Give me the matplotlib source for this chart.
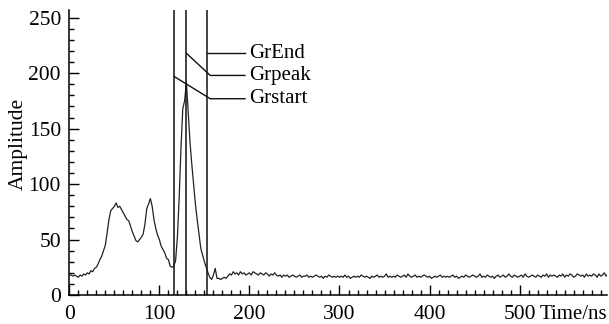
import numpy as np
import matplotlib
matplotlib.use('Agg')
import matplotlib.pyplot as plt
from matplotlib.ticker import MultipleLocator

plt.rcParams['font.family'] = ['Liberation Serif', 'DejaVu Serif']

# waveform sampled every 2 ns
amp = [
    18, 18, 17, 18, 17, 16, 18, 17, 19, 18,
    20, 19, 22, 21, 24, 25, 28, 32, 35, 40,
    45, 56, 68, 76, 78, 80, 83, 79, 80, 77,
    74, 71, 68, 67, 62, 57, 53, 49, 48, 50,
    52, 55, 64, 78, 82, 87, 80, 68, 60, 54,
    50, 44, 41, 38, 33, 32, 26, 25, 26, 31,
    52, 88, 133, 168, 175, 192, 165, 138, 118, 100,
    82, 68, 55, 42, 36, 30, 25, 20, 16, 14,
    18, 24, 15, 15, 14, 15, 16, 15, 17, 19,
    18, 21, 19, 20, 18, 21, 19, 20, 18, 19,
    20, 18, 21, 20, 19, 18, 20, 19, 18, 20,
    19, 17, 19, 18, 20, 18, 17, 18, 16, 18,
    17, 18, 16, 17, 18, 17, 16, 17, 18, 16, 17, 17, 18, 16, 17,
    16, 17, 18, 17, 16, 17, 15, 17, 16, 18, 17, 16, 17, 16, 17,
    16, 17, 16, 18, 16, 17, 15, 16, 17, 16, 17, 16, 18, 17, 16,
    17, 16, 15, 17, 16, 17, 18, 16, 17, 16, 17, 19, 16, 17, 16,
    17, 16, 18, 17, 16, 17, 18, 16, 19, 17, 16, 17, 18, 16, 17,
    16, 17, 18, 17, 16, 17, 15, 16, 17, 16, 17, 18, 16, 17, 16,
    17, 16, 17, 18, 16, 17, 15, 16, 17, 16, 18, 17, 16, 17, 18,
    17, 16, 17, 19, 16, 17, 16, 18, 17, 16, 17, 15, 17, 18, 16,
    17, 18, 16, 17, 19, 17, 16, 18, 17, 16, 17, 18, 16, 19, 17,
    16, 17, 18, 17, 16, 18, 17, 16, 18, 17, 19, 16, 18, 17, 18,
    17, 16, 18, 17, 19, 16, 18, 17, 19, 18, 16, 17, 19, 18, 17,
    18, 16, 19, 17, 18, 17, 19, 18, 16, 19, 17, 18, 20, 17, 19,
]
t = np.arange(len(amp)) * 2

marker_names = ['GrEnd', 'Grpeak', 'Grstart']
marker_times = [153, 130, 116.5]
label_y = [218, 198, 177]     # where each label sits
leader_start_y = [218, 218, 197]

fig = plt.figure(figsize=(6.09, 3.24), dpi=100)
ax = fig.add_axes([0.1138, 0.0895, 0.8829, 0.8796])

ax.plot(t, amp, color='#222222', lw=0.9)
for xm in marker_times:
    ax.axvline(xm, color='#111111', lw=1.1)

elbow_x = 156.5
line_end_x = 195
text_x = 200
for name, xm, ly, sy in zip(marker_names, marker_times, label_y, leader_start_y):
    if name == 'GrEnd':
        ax.plot([xm, line_end_x], [ly, ly], color='#111111', lw=1.0)
    else:
        ax.plot([xm, elbow_x, line_end_x], [sy, ly, ly], color='#111111', lw=1.0)
    ax.text(text_x, ly, name, fontsize=15, va='center', ha='left')

ax.set_xlim(0, 597)
ax.set_ylim(0, 257)
ax.spines['top'].set_visible(False)
ax.spines['right'].set_visible(False)
ax.spines['left'].set_linewidth(1.1)
ax.spines['bottom'].set_linewidth(1.1)

ax.xaxis.set_major_locator(MultipleLocator(100))
ax.xaxis.set_minor_locator(MultipleLocator(10))
ax.yaxis.set_major_locator(MultipleLocator(50))
ax.yaxis.set_minor_locator(MultipleLocator(10))
ax.tick_params(which='both', direction='in', labelsize=15.5, width=1.0)
ax.tick_params(which='major', length=7)
ax.tick_params(which='minor', length=3.5)
ax.tick_params(axis='x', pad=7)
ax.tick_params(axis='y', pad=6)

ax.set_ylabel('Amplitude', fontsize=15.5)
ax.yaxis.set_label_coords(-0.077, 0.53)
ax.annotate('Time/ns', xy=(522, 0), xycoords=('data', 'axes fraction'),
            xytext=(0, -7), textcoords='offset points',
            fontsize=15, ha='left', va='top')

fig.savefig('out.png', dpi=100)
